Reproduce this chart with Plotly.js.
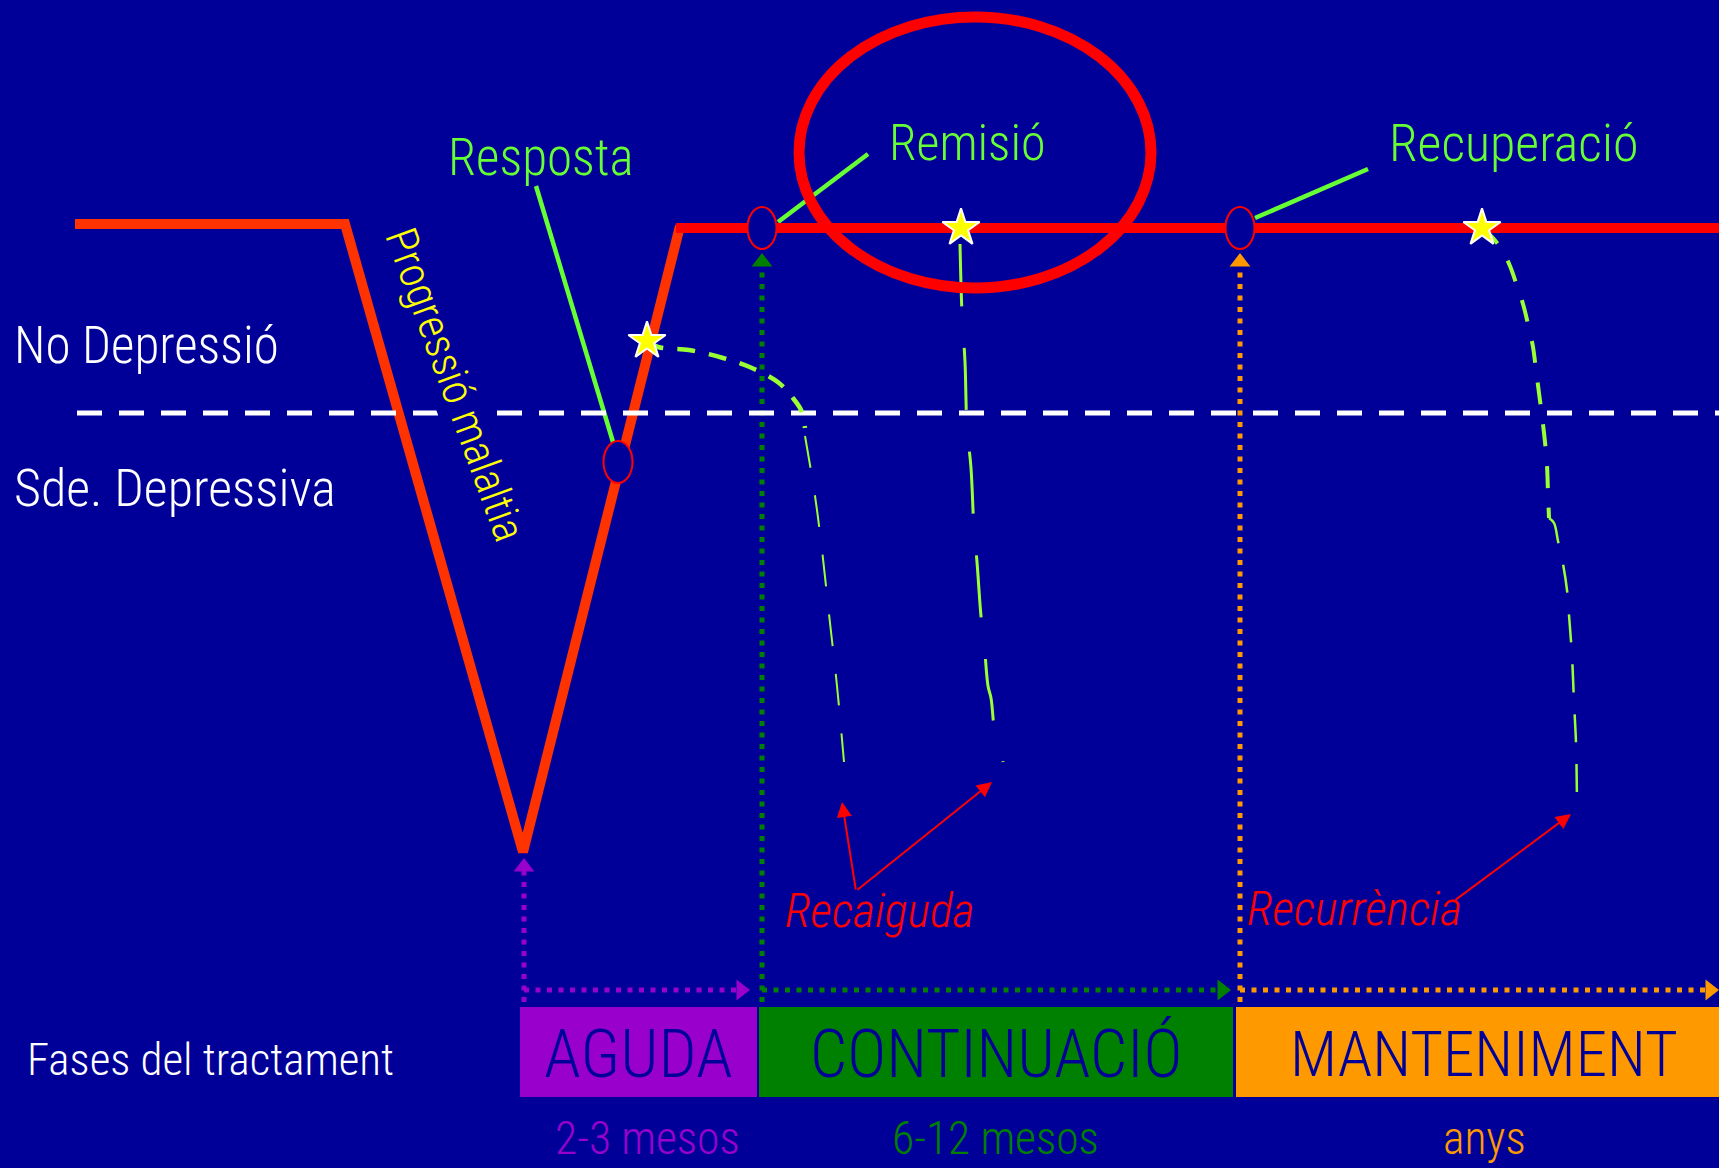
<!DOCTYPE html>
<html>
<head>
<meta charset="utf-8">
<script src="https://cdn.plot.ly/plotly-3.0.1.min.js"></script>
<style>
  html, body { margin: 0; padding: 0; background: #000099; }
  #chart { width: 1719px; height: 1168px; }
</style>
</head>
<body>
<div id="chart"></div>
<script>
// ---- diagram data (pixel-space coordinates of the schematic) ----
const courseX = [75, 345, 523, 680];
const courseY = [224, 224, 852, 226];
const plateauX = [676, 1719];
const plateauY = [228, 228];
const thresholdX = [77, 1719];
const thresholdY = [413, 413];

const relapse1aX = [647, 658, 689, 723, 752, 779, 792, 801, 805];
const relapse1aY = [341, 347, 350, 358, 368, 383, 397, 410, 428];
const relapse1bX = [805, 815, 822, 829, 837, 844];
const relapse1bY = [436, 496, 550, 614, 686, 762];
const relapse2X = [960, 962, 965, 967, 971, 974, 977, 981, 984, 988, 991, 995, 1000, 1003];
const relapse2Y = [244, 313, 362, 427, 468, 529, 562, 616, 641, 686, 698, 734, 750, 762];
const relapse3aX = [1482, 1493, 1502, 1510, 1517, 1523, 1528, 1533, 1536, 1539, 1542, 1545, 1547, 1548, 1549];
const relapse3aY = [228, 238, 250, 266, 286, 304, 324, 347, 370, 393, 416, 442, 465, 493, 518];
const relapse3bX = [1549, 1554, 1558, 1563, 1567, 1569, 1572, 1574, 1576, 1577];
const relapse3bY = [518, 523, 541, 564, 590, 615, 656, 702, 743, 804];

const starX = [647, 961, 1482];
const starY = [341, 228, 228];
const milestoneX = [618, 762, 1240];
const milestoneY = [462, 228, 228];

const leaderLabels = ['Resposta', 'Remisió', 'Recuperació'];
const leaderLabelX = [541, 967, 1513];
const leaderLabelY = [157, 143, 143];
const leaderLabelSize = [51, 50, 52];
const leaderFromX = [536, 868, 1368];
const leaderFromY = [186, 154, 169];
const leaderToX = [613, 778, 1255];
const leaderToY = [442, 222, 218];

const phaseNames = ['AGUDA', 'CONTINUACIÓ', 'MANTENIMENT'];
const phaseNameSize = [67, 66, 63];
const phaseDurations = ['2-3 mesos', '6-12 mesos', 'anys'];
const phaseStart = [520, 759, 1236];
const phaseEnd = [757, 1233, 1719];
const phaseLabelX = [638, 996, 1484];
const durationX = [647, 995, 1484];
const phaseColors = ['#9900CC', '#008000', '#FF9900'];

const timelineVX = [524, 762, 1240];
const timelineVTop = [870, 268, 268];
const timelineVTipY = [858, 253, 253];
const timelineHStart = [524, 762, 1240];
const timelineHEnd = [742, 1222, 1712];
const timelineHTipX = [750, 1231, 1719];

const relapseArrowTailX = [856, 856, 1454];
const relapseArrowTailY = [891, 891, 901];
const relapseArrowTipX = [842, 992, 1571];
const relapseArrowTipY = [802, 782, 814];
const relapseTexts = ['Recaiguda', 'Recurrència'];
const relapseTextX = [880, 1354];
const relapseTextY = [910, 908];

const stateLabels = ['No Depressió', 'Sde. Depressiva', 'Fases del tractament'];
const stateLabelX = [12, 12, 25];
const stateLabelY = [345, 488, 1059];
const stateLabelSize = [51, 52, 45];

// ---- styles ----
const BG = '#000099';
const NARROW = '"Roboto Condensed", "Liberation Sans Narrow", "Open Sans", sans-serif';
const DOT_Y = 990, BOX_Y0 = 1007, BOX_Y1 = 1097;

const traces = [];

// dotted timeline lines
for (let i = 0; i < 3; i++) {
  traces.push({x: [timelineVX[i], timelineVX[i]], y: [1002, timelineVTop[i]], mode: 'lines',
    line: {color: phaseColors[i], width: 5, dash: '5px,6.5px'}, hoverinfo: 'skip'});
  traces.push({x: [timelineHStart[i], timelineHEnd[i]], y: [DOT_Y, DOT_Y], mode: 'lines',
    line: {color: phaseColors[i], width: 5, dash: '5px,6.5px'}, hoverinfo: 'skip'});
}
// green leader lines
for (let i = 0; i < 3; i++) {
  traces.push({x: [leaderFromX[i], leaderToX[i]], y: [leaderFromY[i], leaderToY[i]], mode: 'lines',
    line: {color: '#66FF33', width: 4.5}, hoverinfo: 'skip'});
}
// illness course
traces.push({x: courseX, y: courseY, mode: 'lines', line: {color: '#FF3300', width: 10}, hoverinfo: 'skip'});
traces.push({x: plateauX, y: plateauY, mode: 'lines', line: {color: '#FF0000', width: 10}, hoverinfo: 'skip'});
// threshold
traces.push({x: thresholdX, y: thresholdY, mode: 'lines', line: {color: '#FFFFFF', width: 5, dash: '25px,17px'}, hoverinfo: 'skip'});
// relapse curves
const lime = '#99FF33';
traces.push({x: relapse1aX, y: relapse1aY, mode: 'lines', line: {color: lime, width: 4.5, dash: '18px,14px', shape: 'spline'}, hoverinfo: 'skip'});
traces.push({x: relapse1bX, y: relapse1bY, mode: 'lines', line: {color: lime, width: 2, dash: '32px,28px', shape: 'spline'}, hoverinfo: 'skip'});
traces.push({x: relapse2X, y: relapse2Y, mode: 'lines', line: {color: lime, width: 3, dash: '62px,42px', shape: 'spline'}, hoverinfo: 'skip'});
traces.push({x: relapse3aX, y: relapse3aY, mode: 'lines', line: {color: lime, width: 4, dash: '22px,20px', shape: 'spline'}, hoverinfo: 'skip'});
traces.push({x: relapse3bX, y: relapse3bY, mode: 'lines', line: {color: lime, width: 2.5, dash: '28px,22px', shape: 'spline'}, hoverinfo: 'skip'});
// stars
traces.push({x: starX, y: starY, mode: 'markers',
  marker: {symbol: 'star', size: 28, color: '#FFFF00', line: {color: '#FFFFFF', width: 2}}, hoverinfo: 'skip'});
// arrowheads on dotted lines
const HEAD = 18;
traces.push({x: timelineVX, y: timelineVTipY.map(v => v + HEAD / 2), mode: 'markers',
  marker: {symbol: 'triangle-up', size: HEAD, color: phaseColors, line: {width: 0}}, hoverinfo: 'skip'});
traces.push({x: timelineHTipX.map(v => v - HEAD / 2), y: timelineHTipX.map(() => DOT_Y), mode: 'markers',
  marker: {symbol: 'triangle-right', size: HEAD, color: phaseColors, line: {width: 0}}, hoverinfo: 'skip'});

// shapes
const shapes = [];
for (let i = 0; i < 3; i++) {
  shapes.push({type: 'rect', xref: 'x', yref: 'y', x0: phaseStart[i], x1: phaseEnd[i], y0: BOX_Y0, y1: BOX_Y1,
    fillcolor: phaseColors[i], line: {width: 0}, layer: 'above'});
}
for (let i = 0; i < 3; i++) {
  shapes.push({type: 'circle', xref: 'x', yref: 'y', x0: milestoneX[i] - 14.5, x1: milestoneX[i] + 14.5,
    y0: milestoneY[i] - 21, y1: milestoneY[i] + 21, fillcolor: BG, line: {color: '#FF0000', width: 2}, layer: 'above'});
}
shapes.push({type: 'circle', xref: 'x', yref: 'y', x0: 799, x1: 1151, y0: 17, y1: 288,
  line: {color: '#FF0000', width: 11}, layer: 'above'});

// annotations
const annotations = [];
for (let i = 0; i < 3; i++) {
  annotations.push({x: stateLabelX[i], y: stateLabelY[i], xref: 'x', yref: 'y', text: stateLabels[i], showarrow: false,
    xanchor: 'left', yanchor: 'middle', font: {family: NARROW, size: stateLabelSize[i], weight: 300, color: '#FFFFFF'}});
}
for (let i = 0; i < 3; i++) {
  annotations.push({x: leaderLabelX[i], y: leaderLabelY[i], xref: 'x', yref: 'y', text: leaderLabels[i], showarrow: false,
    xanchor: 'center', yanchor: 'middle', font: {family: NARROW, size: leaderLabelSize[i], weight: 300, color: '#66FF33'}});
}
annotations.push({x: 455, y: 384, xref: 'x', yref: 'y', text: 'Progressió malaltia', showarrow: false, textangle: 70,
  xanchor: 'center', yanchor: 'middle', bgcolor: BG, borderpad: 0, font: {family: NARROW, size: 44, weight: 300, color: '#FFFF00'}});
for (let i = 0; i < 3; i++) {
  annotations.push({x: phaseLabelX[i], y: 1054, xref: 'x', yref: 'y', text: phaseNames[i], showarrow: false,
    xanchor: 'center', yanchor: 'middle', font: {family: NARROW, size: phaseNameSize[i], weight: 300, color: BG}});
  annotations.push({x: durationX[i], y: 1167, xref: 'x', yref: 'y', text: phaseDurations[i], showarrow: false,
    xanchor: 'center', yanchor: 'bottom', font: {family: NARROW, size: 45.5, weight: 300, color: phaseColors[i]}});
}
for (let i = 0; i < 2; i++) {
  annotations.push({x: relapseTextX[i], y: relapseTextY[i], xref: 'x', yref: 'y', text: relapseTexts[i], showarrow: false,
    xanchor: 'center', yanchor: 'middle', font: {family: NARROW, size: 48, weight: 300, color: '#FF0000', style: 'italic'}});
}
for (let i = 0; i < 3; i++) {
  annotations.push({x: relapseArrowTipX[i], y: relapseArrowTipY[i], ax: relapseArrowTailX[i], ay: relapseArrowTailY[i],
    xref: 'x', yref: 'y', axref: 'x', ayref: 'y', text: '', showarrow: true, arrowhead: 2, arrowsize: 1.5,
    arrowwidth: 2, arrowcolor: '#FF0000', standoff: 0, startstandoff: 0});
}

const layout = {
  width: 1719, height: 1168,
  margin: {l: 0, r: 0, t: 0, b: 0, pad: 0},
  paper_bgcolor: BG, plot_bgcolor: BG,
  showlegend: false,
  xaxis: {range: [0, 1719], visible: false, fixedrange: true},
  yaxis: {range: [1168, 0], visible: false, fixedrange: true},
  shapes: shapes,
  annotations: annotations,
  font: {family: NARROW}
};

Plotly.newPlot('chart', traces, layout, {displayModeBar: false, staticPlot: true});
</script>
</body>
</html>
